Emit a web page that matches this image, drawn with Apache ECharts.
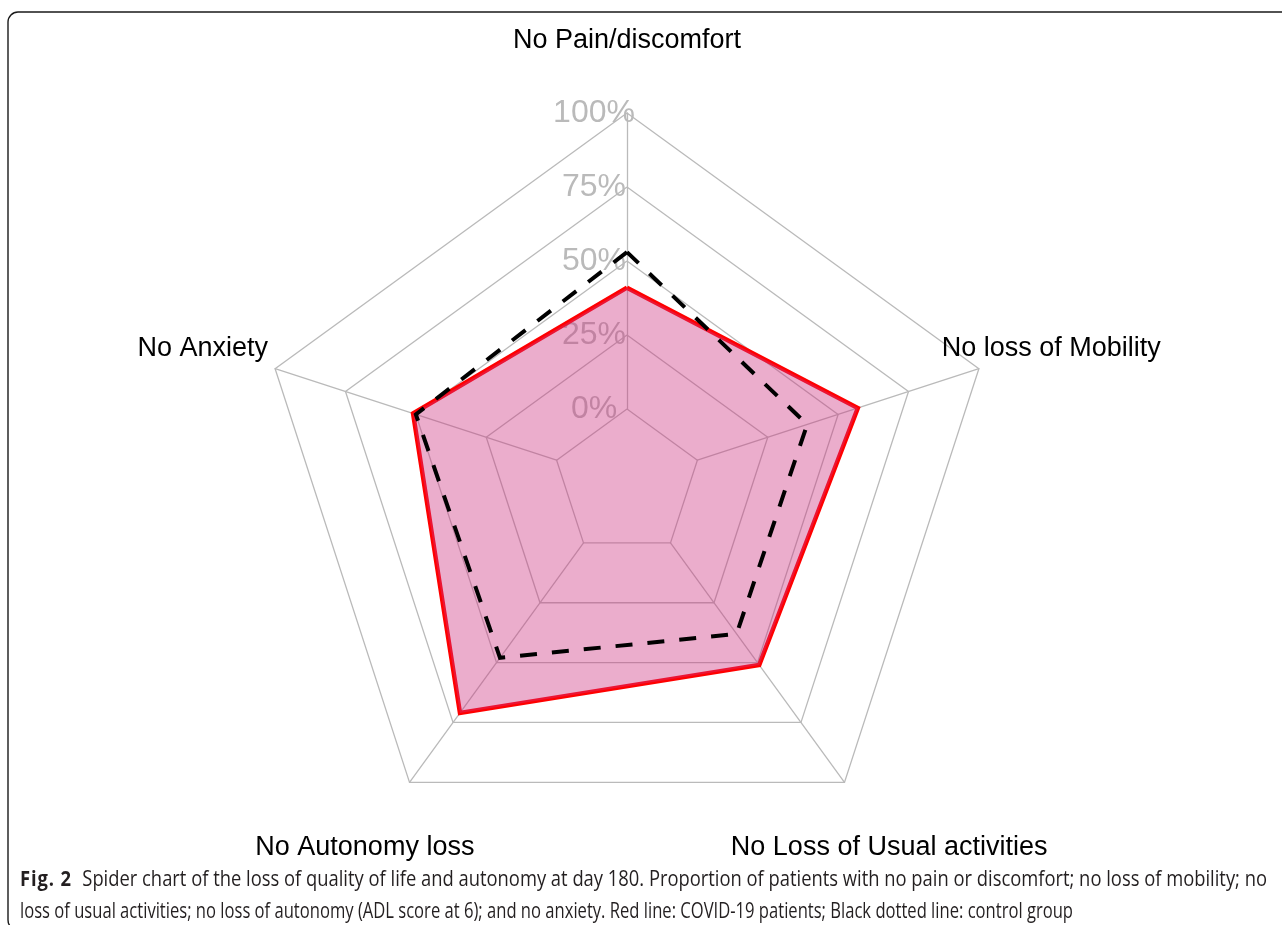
<!DOCTYPE html>
<html>
<head>
<meta charset="utf-8">
<script src="https://cdn.jsdelivr.net/npm/echarts@6/dist/echarts.min.js"></script>
<style>
  html, body { margin: 0; padding: 0; background: #fff; }
  #wrap { position: relative; width: 1282px; height: 925px; overflow: hidden; }
  #chart { position: absolute; left: 0; top: 0; width: 1282px; height: 925px; }
  .cap { position: absolute; left: 20px; white-space: nowrap; font-family: "Open Sans", "Noto Sans", sans-serif;
         font-size: 21px; color: #231f20; transform-origin: 0 50%; line-height: 26px; }
  .cap b { font-weight: 700; letter-spacing: 1px; margin-right: 12px; }
</style>
</head>
<body>
<div id="wrap">
  <div id="chart"></div>
  <div class="cap" id="cap1" style="top:865px"><b>Fig. 2</b>Spider chart of the loss of quality of life and autonomy at day 180. Proportion of patients with no pain or discomfort; no loss of mobility; no</div>
  <div class="cap" id="cap2" style="top:897px">loss of usual activities; no loss of autonomy (ADL score at 6); and no anxiety. Red line: COVID-19 patients; Black dotted line: control group</div>
</div>
<script>
// Dimensions, listed clockwise from the top
const categories = ['No Pain/discomfort', 'No loss of Mobility', 'No Loss of Usual activities', 'No Autonomy loss', 'No Anxiety'];
// Share of patients (%) at day 180
const covidValues = [41, 57, 51, 71, 51];
const controlValues = [53, 39, 38, 48, 50];
// Ring ticks (%); the innermost ring sits one step off the centre
const tickValues = [-25, 0, 25, 50, 75, 100];

const axisMin = tickValues[0];
const axisMax = tickValues[tickValues.length - 1];
const GRID = '#bababa';
const RADIUS = 370;
const STEP = RADIUS / (tickValues.length - 1);
const NAME_FONT = 'Liberation Sans, Arial, sans-serif';

// ECharts lays radar axes out counter-clockwise, so walk the categories backwards after the first one
const order = [0, 4, 3, 2, 1];
const indicator = order.map((k, i) => {
  const ind = { name: categories[k], min: axisMin, max: axisMax };
  if (i === 0) {
    ind.axisLabel = {
      show: true,
      color: GRID,
      fontSize: 32,
      fontFamily: NAME_FONT,
      align: 'center',
      verticalAlign: 'middle',
      margin: 33,
      showMinLabel: true,
      showMaxLabel: true,
      hideOverlap: false,
      formatter: v => (v < 0 ? '' : v + '%')
    };
  }
  return ind;
});
const pick = arr => order.map(k => arr[k]);

// no ring at the centre itself
const ringColors = tickValues.map(v => (v === axisMin ? 'rgba(0,0,0,0)' : GRID));

const chart = echarts.init(document.getElementById('chart'), null, { renderer: 'canvas' });
chart.setOption({
  animation: false,
  backgroundColor: '#fff',
  graphic: [{
    type: 'rect',
    shape: { x: 8, y: 12, width: 1320, height: 918, r: 10 },
    style: { fill: 'none', stroke: '#1a1a1a', lineWidth: 1.4 },
    z: -10
  }],
  radar: {
    center: [627, 483],
    radius: RADIUS,
    startAngle: 90,
    splitNumber: tickValues.length - 1,
    shape: 'polygon',
    indicator: indicator,
    nameGap: 76,
    axisName: {
      color: '#000',
      fontSize: 27,
      fontFamily: NAME_FONT,
      align: 'center',
      verticalAlign: 'middle',
      formatter: n => '{n|' + n + '}',
      rich: {
        n: { color: '#000', fontSize: 27, fontFamily: NAME_FONT, padding: [7, 0, 0, 0] }
      }
    },
    axisLabel: { show: false },
    axisTick: { show: false },
    axisLine: {
      show: true,
      // spokes start at the 0% ring: the pattern begins with its gap
      lineStyle: { color: GRID, width: 1.3, type: [RADIUS * 1.2, STEP], dashOffset: RADIUS * 1.2 }
    },
    splitLine: { show: true, lineStyle: { color: ringColors, width: 1.3 } },
    splitArea: { show: false }
  },
  series: [{
    type: 'radar',
    symbol: 'none',
    silent: true,
    data: [
      {
        name: 'COVID-19 patients',
        value: pick(covidValues),
        lineStyle: { color: '#ff0000', width: 4.5, join: 'miter' },
        areaStyle: { color: 'rgba(204,51,127,0.4)', opacity: 1 }
      },
      {
        name: 'Control group',
        value: pick(controlValues),
        lineStyle: { color: '#000000', width: 4, type: [17, 15], join: 'miter' }
      }
    ]
  }]
});

// Condense each caption line to its measured extent
(function fitCaption() {
  [['cap1', 1247], ['cap2', 1053]].forEach(([id, w]) => {
    const el = document.getElementById(id);
    const k = w / el.getBoundingClientRect().width;
    el.style.transform = 'scaleX(' + k + ')';
  });
})();
</script>
</body>
</html>
